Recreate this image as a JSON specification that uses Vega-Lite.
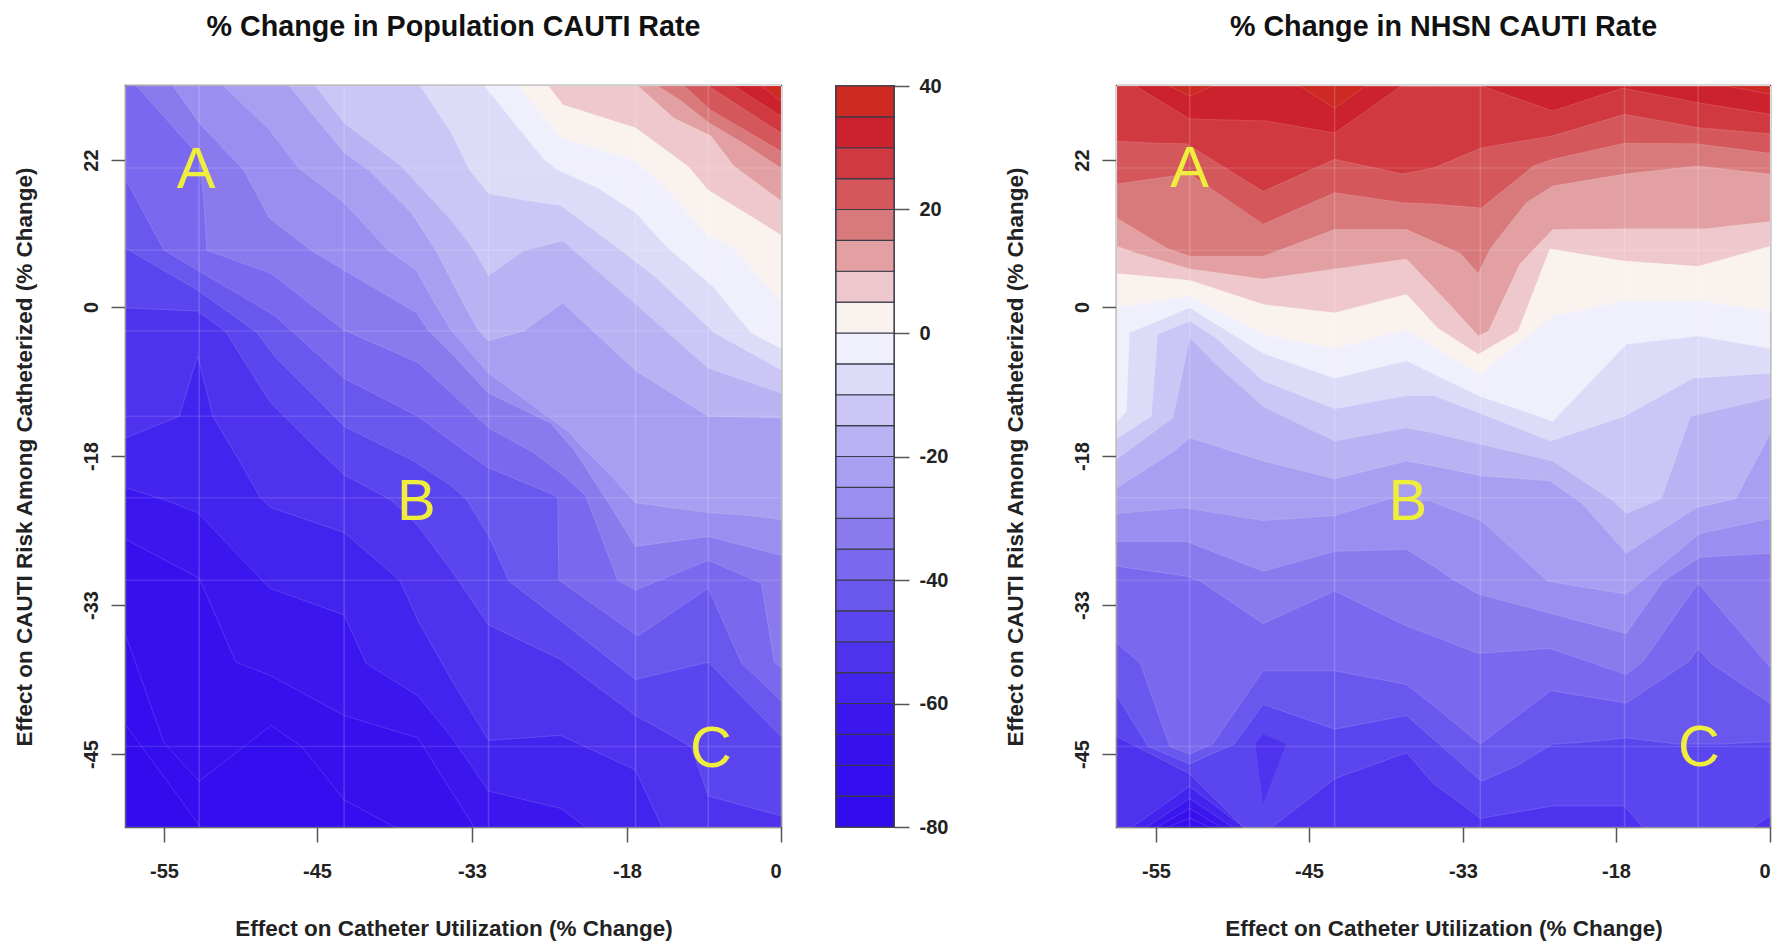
{"$schema":"https://vega.github.io/schema/vega-lite/v6.json","background":"white","padding":{"left":11,"top":12,"right":0,"bottom":0},"spacing":53,"config":{"view":{"stroke":"#555555","strokeWidth":2.5},"axis":{"grid":false,"domain":false,"tickSize":15,"tickWidth":1.5,"tickColor":"#555555","labelFont":"Liberation Sans","labelFontSize":20,"labelFontWeight":"bold","labelColor":"#222222","titleFont":"Liberation Sans","titleFontSize":22.5,"titleFontWeight":"bold","titleColor":"#222222"},"title":{"font":"Liberation Sans","fontSize":28.7,"fontWeight":"bold","color":"#111111","anchor":"middle","offset":42}},"hconcat":[{"spacing":49,"hconcat":[{"width":655,"height":741,"title":"% Change in Population CAUTI Rate","layer":[{"data":{"values":[
{"x":-57.5,"y":-50.9,"band":-80},{"x":0,"y":-50.9,"band":-80},
{"x":-57.5,"y":-42.7,"band":-75},{"x":-52.6,"y":-50.9,"band":-75},{"x":0,"y":-50.9,"band":-75},
{"x":-57.5,"y":-35.5,"band":-70},{"x":-55,"y":-44.1,"band":-70},{"x":-52.7,"y":-47.2,"band":-70},{"x":-48,"y":-42.7,"band":-70},{"x":-46,"y":-44.4,"band":-70},{"x":-42.9,"y":-48.7,"band":-70},{"x":-39,"y":-50.9,"band":-70},{"x":0,"y":-50.9,"band":-70},
{"x":-57.5,"y":-26.4,"band":-65},{"x":-52.7,"y":-30.3,"band":-65},{"x":-50.3,"y":-37.6,"band":-65},{"x":-48,"y":-38.7,"band":-65},{"x":-42.9,"y":-41.9,"band":-65},{"x":-37.2,"y":-43.7,"band":-65},{"x":-32.8,"y":-50.9,"band":-65},{"x":0,"y":-50.9,"band":-65},
{"x":-57.5,"y":-21.2,"band":-60},{"x":-55,"y":-22.4,"band":-60},{"x":-52.8,"y":-23.7,"band":-60},{"x":-48.1,"y":-31.3,"band":-60},{"x":-42.9,"y":-33.8,"band":-60},{"x":-41.2,"y":-37.7,"band":-60},{"x":-37.2,"y":-40.3,"band":-60},{"x":-34.6,"y":-43.6,"band":-60},{"x":-31.4,"y":-48,"band":-60},{"x":-24.4,"y":-49.4,"band":-60},{"x":-22,"y":-50.9,"band":-60},{"x":0,"y":-50.9,"band":-60},
{"x":-57.5,"y":-15.8,"band":-55},{"x":-54,"y":-13.2,"band":-55},{"x":-52.8,"y":-5.9,"band":-55},{"x":-51.8,"y":-13.2,"band":-55},{"x":-50,"y":-18.7,"band":-55},{"x":-48.7,"y":-22.2,"band":-55},{"x":-48,"y":-23.2,"band":-55},{"x":-42.9,"y":-25.7,"band":-55},{"x":-38.6,"y":-30.5,"band":-55},{"x":-37.2,"y":-34.2,"band":-55},{"x":-34.6,"y":-39,"band":-55},{"x":-31.4,"y":-43.9,"band":-55},{"x":-24.4,"y":-43.5,"band":-55},{"x":-17,"y":-46.3,"band":-55},{"x":-13.9,"y":-50.9,"band":-55},{"x":0,"y":-50.9,"band":-55},
{"x":-57.5,"y":-0.1,"band":-50},{"x":-52.8,"y":-0.5,"band":-50},{"x":-51,"y":-2.9,"band":-50},{"x":-48.1,"y":-11.4,"band":-50},{"x":-44.7,"y":-17.6,"band":-50},{"x":-42.9,"y":-19.9,"band":-50},{"x":-39.3,"y":-22.4,"band":-50},{"x":-37.2,"y":-25,"band":-50},{"x":-34.6,"y":-29.5,"band":-50},{"x":-31.4,"y":-34.6,"band":-50},{"x":-24.4,"y":-37.4,"band":-50},{"x":-17,"y":-41.9,"band":-50},{"x":-10.5,"y":-44.4,"band":-50},{"x":-8.5,"y":-48.4,"band":-50},{"x":0,"y":-50,"band":-50},
{"x":-57.5,"y":8.8,"band":-45},{"x":-52.8,"y":2.5,"band":-45},{"x":-48.9,"y":-3.1,"band":-45},{"x":-47.8,"y":-5.9,"band":-45},{"x":-42.9,"y":-14.4,"band":-45},{"x":-37.5,"y":-18.5,"band":-45},{"x":-34.6,"y":-21,"band":-45},{"x":-33.4,"y":-22.4,"band":-45},{"x":-31.4,"y":-26,"band":-45},{"x":-29.4,"y":-30.6,"band":-45},{"x":-24.2,"y":-34.4,"band":-45},{"x":-17,"y":-39,"band":-45},{"x":-8.5,"y":-37.6,"band":-45},{"x":0,"y":-43.6,"band":-45},
{"x":-57.5,"y":19,"band":-40},{"x":-55,"y":8.5,"band":-40},{"x":-52.8,"y":5.5,"band":-40},{"x":-47.8,"y":-1,"band":-40},{"x":-42.9,"y":-8.6,"band":-40},{"x":-37.2,"y":-13.2,"band":-40},{"x":-33.4,"y":-17.6,"band":-40},{"x":-31.4,"y":-19.2,"band":-40},{"x":-25.1,"y":-21.9,"band":-40},{"x":-24.7,"y":-22.2,"band":-40},{"x":-24.6,"y":-30.5,"band":-40},{"x":-16.7,"y":-35.5,"band":-40},{"x":-8.5,"y":-31.3,"band":-40},{"x":-4.6,"y":-37.7,"band":-40},{"x":0,"y":-40.7,"band":-40},
{"x":-56.8,"y":33,"band":-35},{"x":-52.7,"y":22.6,"band":-35},{"x":-52.4,"y":16,"band":-35},{"x":-52.2,"y":8.5,"band":-35},{"x":-48,"y":5,"band":-35},{"x":-42.9,"y":-2.8,"band":-35},{"x":-37.2,"y":-6.7,"band":-35},{"x":-34.6,"y":-10.4,"band":-35},{"x":-31.4,"y":-14.6,"band":-35},{"x":-27,"y":-17.6,"band":-35},{"x":-24.1,"y":-20,"band":-35},{"x":-22,"y":-22,"band":-35},{"x":-18.9,"y":-30.5,"band":-35},{"x":-17,"y":-31.5,"band":-35},{"x":-8.5,"y":-28.5,"band":-35},{"x":-2.3,"y":-30.8,"band":-35},{"x":-0.8,"y":-37.6,"band":-35},{"x":0,"y":-38,"band":-35},
{"x":-54.4,"y":33,"band":-30},{"x":-52.7,"y":27.5,"band":-30},{"x":-49.8,"y":20.5,"band":-30},{"x":-48.1,"y":13.3,"band":-30},{"x":-45.4,"y":8.5,"band":-30},{"x":-42.9,"y":5.5,"band":-30},{"x":-37.3,"y":-0.7,"band":-30},{"x":-36.4,"y":-2.8,"band":-30},{"x":-34.6,"y":-5.6,"band":-30},{"x":-31.4,"y":-10.4,"band":-30},{"x":-25.4,"y":-14,"band":-30},{"x":-23.1,"y":-17.3,"band":-30},{"x":-19.8,"y":-22.7,"band":-30},{"x":-17,"y":-27.1,"band":-30},{"x":-8.5,"y":-26.1,"band":-30},{"x":0,"y":-28,"band":-30},
{"x":-51.1,"y":33,"band":-25},{"x":-48.1,"y":26.5,"band":-25},{"x":-46.2,"y":20.8,"band":-25},{"x":-42.9,"y":15.6,"band":-25},{"x":-39.5,"y":8.5,"band":-25},{"x":-37.3,"y":5.5,"band":-25},{"x":-35.9,"y":0.6,"band":-25},{"x":-34.6,"y":-2.8,"band":-25},{"x":-31.4,"y":-8,"band":-25},{"x":-23.7,"y":-15,"band":-25},{"x":-21.8,"y":-17.6,"band":-25},{"x":-19.8,"y":-19.7,"band":-25},{"x":-17,"y":-22.7,"band":-25},{"x":-8.5,"y":-23.7,"band":-25},{"x":-3.5,"y":-24,"band":-25},{"x":0,"y":-24.4,"band":-25},
{"x":-46.8,"y":33,"band":-20},{"x":-42.9,"y":23.1,"band":-20},{"x":-41,"y":20.5,"band":-20},{"x":-37.7,"y":14.1,"band":-20},{"x":-35.8,"y":8.5,"band":-20},{"x":-34.6,"y":4,"band":-20},{"x":-34.1,"y":2.1,"band":-20},{"x":-32.4,"y":-2.8,"band":-20},{"x":-31.4,"y":-4.1,"band":-20},{"x":-28,"y":-2.9,"band":-20},{"x":-24.2,"y":0.6,"band":-20},{"x":-17,"y":-7.7,"band":-20},{"x":-8.5,"y":-13.2,"band":-20},{"x":0,"y":-13.4,"band":-20},
{"x":-45.1,"y":33,"band":-15},{"x":-42.9,"y":27.5,"band":-15},{"x":-38.5,"y":21.1,"band":-15},{"x":-34.6,"y":13,"band":-15},{"x":-32.8,"y":8.5,"band":-15},{"x":-31.4,"y":4.7,"band":-15},{"x":-28,"y":8.4,"band":-15},{"x":-24.2,"y":9.9,"band":-15},{"x":-16.7,"y":0.1,"band":-15},{"x":-8.5,"y":-7.4,"band":-15},{"x":0,"y":-10.4,"band":-15},
{"x":-37,"y":33,"band":-10},{"x":-34.6,"y":26,"band":-10},{"x":-33.2,"y":20.5,"band":-10},{"x":-31.4,"y":17,"band":-10},{"x":-28,"y":16,"band":-10},{"x":-24.4,"y":15.2,"band":-10},{"x":-18.6,"y":8.5,"band":-10},{"x":-14.8,"y":4.6,"band":-10},{"x":-7.8,"y":-3.1,"band":-10},{"x":0,"y":-7.6,"band":-10},
{"x":-31.8,"y":33,"band":-5},{"x":-26,"y":22,"band":-5},{"x":-24.7,"y":20.5,"band":-5},{"x":-20.8,"y":17.8,"band":-5},{"x":-17,"y":14.1,"band":-5},{"x":-13.2,"y":8.8,"band":-5},{"x":-8,"y":3.1,"band":-5},{"x":-3.5,"y":-3.1,"band":-5},{"x":0,"y":-5,"band":-5},
{"x":-28.5,"y":33,"band":0},{"x":-24.4,"y":25.3,"band":0},{"x":-17,"y":21.9,"band":0},{"x":-13.2,"y":17.5,"band":0},{"x":-8.5,"y":10.6,"band":0},{"x":-5.8,"y":9.1,"band":0},{"x":0,"y":0.9,"band":0},
{"x":-25.6,"y":33,"band":5},{"x":-24.2,"y":30.2,"band":5},{"x":-17,"y":26.8,"band":5},{"x":-10.9,"y":21.1,"band":5},{"x":-8.5,"y":17.5,"band":5},{"x":0,"y":10.8,"band":5},
{"x":-16.7,"y":33,"band":10},{"x":-12.5,"y":28.2,"band":10},{"x":-8.2,"y":25.6,"band":10},{"x":-5.5,"y":21.1,"band":10},{"x":0,"y":15.9,"band":10},
{"x":-14.4,"y":33,"band":15},{"x":-11.7,"y":30.8,"band":15},{"x":-8.4,"y":27.5,"band":15},{"x":-4.4,"y":24.5,"band":15},{"x":0,"y":20.8,"band":15},
{"x":-11.3,"y":33,"band":20},{"x":-8.2,"y":29.4,"band":20},{"x":0,"y":23.3,"band":20},
{"x":-8.5,"y":33,"band":25},{"x":0,"y":26,"band":25},
{"x":-5.5,"y":33,"band":30},{"x":0,"y":28.5,"band":30},
{"x":-2.3,"y":33,"band":35},{"x":0,"y":30.8,"band":35}
]},"mark":{"type":"area","orient":"vertical","stroke":"#ffffff","strokeOpacity":0.14,"strokeWidth":1},"encoding":{"x":{"field":"x","type":"quantitative","scale":{"nice":false,"domain":[-57.5,-55,-45,-33,-18,0],"range":[0,38,191,346,501,655]},"axis":{"values":[-55,-45,-33,-18,0],"labelExpr":"'' + datum.value","title":"Effect on Catheter Utilization (% Change)","labelPadding":19,"titlePadding":36}},"y":{"field":"y","type":"quantitative","stack":null,"scale":{"nice":false,"domain":[-50.9,-45,-33,-18,0,22,33],"range":[741,668,519,370,221,74,0]},"axis":{"values":[-45,-33,-18,0,22],"labelExpr":"'' + datum.value","title":"Effect on CAUTI Risk Among Catheterized (% Change)","labelAngle":-90,"labelAlign":"center","labelBaseline":"bottom","labelPadding":10,"titlePadding":45}},"y2":{"datum":33},"color":{"field":"band","type":"ordinal","legend":null,"scale":{"domain":[-80,-75,-70,-65,-60,-55,-50,-45,-40,-35,-30,-25,-20,-15,-10,-5,0,5,10,15,20,25,30,35],"range":["#330cee","#340eee","#3710ee","#3b16ee","#4324ee","#4f32ee","#5a45ee","#6a58ee","#7a68ee","#8a7aee","#9a8ff0","#a99ff2","#b9b3f3","#cbc6f6","#dddcf8","#f0effc","#faf2ef","#eec8cc","#e3a0a2","#d87a7c","#d4575b","#d0393f","#cc222d","#cc2a22"]}}}},
{"data":{"values":[{"x":-52.7},{"x":-42.9},{"x":-31.4},{"x":-17},{"x":-8.5}]},"mark":{"type":"rule","color":"#ffffff","opacity":0.17,"strokeWidth":1.5},"encoding":{"x":{"field":"x","type":"quantitative"}}},
{"data":{"values":[{"y":20.8},{"y":8.5},{"y":-2.9},{"y":-13.2},{"y":-22.2},{"y":-30.5},{"y":-44.4}]},"mark":{"type":"rule","color":"#ffffff","opacity":0.12,"strokeWidth":1.5},"encoding":{"y":{"field":"y","type":"quantitative"}}},
{"data":{"values":[{"x":-52.9,"y":20.4,"letter":"A"},{"x":-37.3,"y":-22.7,"letter":"B"},{"x":-8.2,"y":-44.7,"letter":"C"}]},"mark":{"type":"text","font":"Liberation Sans","fontSize":58,"color":"#f0ee3c","align":"center","baseline":"middle"},"encoding":{"x":{"field":"x","type":"quantitative"},"y":{"field":"y","type":"quantitative"},"text":{"field":"letter","type":"nominal"}}}]},
{"width":58,"height":741,"view":{"stroke":"#555555","strokeWidth":2},"data":{"values":[{"low":-80,"high":-75,"band":-80},{"low":-75,"high":-70,"band":-75},{"low":-70,"high":-65,"band":-70},{"low":-65,"high":-60,"band":-65},{"low":-60,"high":-55,"band":-60},{"low":-55,"high":-50,"band":-55},{"low":-50,"high":-45,"band":-50},{"low":-45,"high":-40,"band":-45},{"low":-40,"high":-35,"band":-40},{"low":-35,"high":-30,"band":-35},{"low":-30,"high":-25,"band":-30},{"low":-25,"high":-20,"band":-25},{"low":-20,"high":-15,"band":-20},{"low":-15,"high":-10,"band":-15},{"low":-10,"high":-5,"band":-10},{"low":-5,"high":0,"band":-5},{"low":0,"high":5,"band":0},{"low":5,"high":10,"band":5},{"low":10,"high":15,"band":10},{"low":15,"high":20,"band":15},{"low":20,"high":25,"band":20},{"low":25,"high":30,"band":25},{"low":30,"high":35,"band":30},{"low":35,"high":40,"band":35}]},"mark":{"type":"rect","stroke":"#3a3a4a","strokeWidth":1.2},"encoding":{"y":{"field":"low","type":"quantitative","scale":{"domain":[-80,40],"nice":false},"axis":{"orient":"right","values":[-80,-60,-40,-20,0,20,40],"labelExpr":"'' + datum.value","title":null,"labelPadding":10}},"y2":{"field":"high"},"color":{"field":"band","type":"ordinal","legend":null,"scale":{"domain":[-80,-75,-70,-65,-60,-55,-50,-45,-40,-35,-30,-25,-20,-15,-10,-5,0,5,10,15,20,25,30,35],"range":["#330cee","#340eee","#3710ee","#3b16ee","#4324ee","#4f32ee","#5a45ee","#6a58ee","#7a68ee","#8a7aee","#9a8ff0","#a99ff2","#b9b3f3","#cbc6f6","#dddcf8","#f0effc","#faf2ef","#eec8cc","#e3a0a2","#d87a7c","#d4575b","#d0393f","#cc222d","#cc2a22"]}}}}]},
{"width":653,"height":741,"title":"% Change in NHSN CAUTI Rate","layer":[{"data":{"values":[
{"x":-57.5,"y":-50.9,"band":-75},{"x":0,"y":-50.9,"band":-75},
{"x":-57.5,"y":-50.9,"band":-70},{"x":-54.2,"y":-50.9,"band":-70},{"x":-52.8,"y":-50.2,"band":-70},{"x":-51.5,"y":-50.9,"band":-70},{"x":0,"y":-50.9,"band":-70},
{"x":-57.5,"y":-50.9,"band":-65},{"x":-54.9,"y":-50.9,"band":-65},{"x":-52.8,"y":-49.4,"band":-65},{"x":-50.8,"y":-50.9,"band":-65},{"x":0,"y":-50.9,"band":-65},
{"x":-57.5,"y":-50.9,"band":-60},{"x":-55.6,"y":-50.9,"band":-60},{"x":-52.8,"y":-48.6,"band":-60},{"x":-50,"y":-50.9,"band":-60},{"x":0,"y":-50.9,"band":-60},
{"x":-57.5,"y":-50.9,"band":-55},{"x":-56.5,"y":-50.9,"band":-55},{"x":-52.8,"y":-47.6,"band":-55},{"x":-49.3,"y":-50.9,"band":-55},{"x":0,"y":-50.9,"band":-55},
{"x":-57.5,"y":-43.6,"band":-50},{"x":-52.8,"y":-46.6,"band":-50},{"x":-49.3,"y":-50.9,"band":-50},{"x":-47.4,"y":-50.9,"band":-50},{"x":-43,"y":-47,"band":-50},{"x":-37.4,"y":-44.9,"band":-50},{"x":-35.3,"y":-47.4,"band":-50},{"x":-33.8,"y":-48.5,"band":-50},{"x":-31.3,"y":-50.2,"band":-50},{"x":-24.2,"y":-49.2,"band":-50},{"x":-17,"y":-49.2,"band":-50},{"x":-14.9,"y":-50.9,"band":-50},{"x":-2,"y":-50.9,"band":-50},{"x":0,"y":-50,"band":-50},
{"x":-57.5,"y":-40.3,"band":-45},{"x":-55.5,"y":-44.4,"band":-45},{"x":-52.8,"y":-45.8,"band":-45},{"x":-49.9,"y":-44.2,"band":-45},{"x":-48,"y":-41,"band":-45},{"x":-43,"y":-43,"band":-45},{"x":-37.4,"y":-41.9,"band":-45},{"x":-35.3,"y":-43.8,"band":-45},{"x":-31.2,"y":-47.2,"band":-45},{"x":-27.8,"y":-46,"band":-45},{"x":-24.2,"y":-44.2,"band":-45},{"x":-22,"y":-44.1,"band":-45},{"x":-16.8,"y":-43.7,"band":-45},{"x":-10.9,"y":-44.2,"band":-45},{"x":-5.8,"y":-44.2,"band":-45},{"x":0,"y":-44,"band":-45},
{"x":-57.5,"y":-36.1,"band":-40},{"x":-56,"y":-37.7,"band":-40},{"x":-54.1,"y":-44.4,"band":-40},{"x":-52.8,"y":-45,"band":-40},{"x":-51.3,"y":-44.2,"band":-40},{"x":-48,"y":-38.3,"band":-40},{"x":-43,"y":-38.3,"band":-40},{"x":-37.4,"y":-39.4,"band":-40},{"x":-35.3,"y":-41.1,"band":-40},{"x":-31.3,"y":-44.2,"band":-40},{"x":-24.4,"y":-39.9,"band":-40},{"x":-16.8,"y":-40.9,"band":-40},{"x":-9.4,"y":-37.5,"band":-40},{"x":-8.4,"y":-36.5,"band":-40},{"x":-6.9,"y":-37.7,"band":-40},{"x":0,"y":-40.9,"band":-40},
{"x":-57.5,"y":-29.1,"band":-35},{"x":-53,"y":-30.1,"band":-35},{"x":-52.1,"y":-30.6,"band":-35},{"x":-48,"y":-34.5,"band":-35},{"x":-43,"y":-31.6,"band":-35},{"x":-37.4,"y":-34.7,"band":-35},{"x":-35.3,"y":-35.5,"band":-35},{"x":-31.5,"y":-36.9,"band":-35},{"x":-24.5,"y":-36.5,"band":-35},{"x":-16.8,"y":-38.6,"band":-35},{"x":-14.8,"y":-37.5,"band":-35},{"x":-8.4,"y":-30.8,"band":-35},{"x":0,"y":-38,"band":-35},
{"x":-57.5,"y":-26.6,"band":-30},{"x":-53,"y":-26.6,"band":-30},{"x":-48,"y":-29.6,"band":-30},{"x":-43,"y":-27.6,"band":-30},{"x":-37.4,"y":-27.4,"band":-30},{"x":-35.3,"y":-29.1,"band":-30},{"x":-33.8,"y":-30.4,"band":-30},{"x":-31.5,"y":-31.9,"band":-30},{"x":-16.8,"y":-35.3,"band":-30},{"x":-12.5,"y":-30.6,"band":-30},{"x":-8.2,"y":-28.2,"band":-30},{"x":0,"y":-27.8,"band":-30},
{"x":-57.5,"y":-23.8,"band":-25},{"x":-53.2,"y":-23.2,"band":-25},{"x":-48,"y":-24.5,"band":-25},{"x":-43,"y":-24,"band":-25},{"x":-38.7,"y":-22.3,"band":-25},{"x":-35.6,"y":-22.5,"band":-25},{"x":-31.2,"y":-24.5,"band":-25},{"x":-24.7,"y":-30.6,"band":-25},{"x":-16.8,"y":-31.9,"band":-25},{"x":-8.2,"y":-25.8,"band":-25},{"x":0,"y":-24.3,"band":-25},
{"x":-57.5,"y":-21.2,"band":-20},{"x":-53.8,"y":-17.4,"band":-20},{"x":-52.8,"y":-15.8,"band":-20},{"x":-48,"y":-18.5,"band":-20},{"x":-43,"y":-20.3,"band":-20},{"x":-37.4,"y":-18.5,"band":-20},{"x":-35.3,"y":-19,"band":-20},{"x":-31.2,"y":-20,"band":-20},{"x":-24.5,"y":-20.5,"band":-20},{"x":-21.3,"y":-22.8,"band":-20},{"x":-16.8,"y":-27.8,"band":-20},{"x":-8.6,"y":-23.2,"band":-20},{"x":-4,"y":-22.3,"band":-20},{"x":0,"y":-15.3,"band":-20},
{"x":-57.5,"y":-18.3,"band":-15},{"x":-53.9,"y":-13.4,"band":-15},{"x":-52.8,"y":-3.7,"band":-15},{"x":-51.1,"y":-6.9,"band":-15},{"x":-48,"y":-12,"band":-15},{"x":-43,"y":-16.2,"band":-15},{"x":-37.4,"y":-14.6,"band":-15},{"x":-35.3,"y":-15.2,"band":-15},{"x":-31.2,"y":-16.6,"band":-15},{"x":-24.2,"y":-18.5,"band":-15},{"x":-18.3,"y":-22.5,"band":-15},{"x":-16.8,"y":-23.8,"band":-15},{"x":-12.7,"y":-22.3,"band":-15},{"x":-9.3,"y":-13.2,"band":-15},{"x":0,"y":-11,"band":-15},
{"x":-57.5,"y":-15.9,"band":-10},{"x":-55.3,"y":-13.2,"band":-10},{"x":-54.9,"y":-3.3,"band":-10},{"x":-52.8,"y":-1.7,"band":-10},{"x":-51.1,"y":-3.7,"band":-10},{"x":-48,"y":-8.9,"band":-10},{"x":-43,"y":-12.3,"band":-10},{"x":-37.4,"y":-10.7,"band":-10},{"x":-35.3,"y":-10.7,"band":-10},{"x":-31.2,"y":-12.9,"band":-10},{"x":-24.4,"y":-16.2,"band":-10},{"x":-17,"y":-13.2,"band":-10},{"x":-9,"y":-8.6,"band":-10},{"x":0,"y":-8,"band":-10},
{"x":-57.5,"y":-13.8,"band":-5},{"x":-56.9,"y":-12.6,"band":-5},{"x":-56.7,"y":-3.1,"band":-5},{"x":-52.8,"y":-0.1,"band":-5},{"x":-48,"y":-5.6,"band":-5},{"x":-43,"y":-8.6,"band":-5},{"x":-37.4,"y":-6.5,"band":-5},{"x":-35.3,"y":-8.1,"band":-5},{"x":-31.3,"y":-10.8,"band":-5},{"x":-24.2,"y":-13.8,"band":-5},{"x":-16.8,"y":-4.5,"band":-5},{"x":-8.4,"y":-3.5,"band":-5},{"x":0,"y":-5,"band":-5},
{"x":-57.5,"y":-0.1,"band":0},{"x":-52.8,"y":1.6,"band":0},{"x":-48,"y":-3.3,"band":0},{"x":-43,"y":-5,"band":0},{"x":-37.4,"y":-2.7,"band":0},{"x":-33.8,"y":-6.2,"band":0},{"x":-31.3,"y":-8.1,"band":0},{"x":-24.2,"y":-1.1,"band":0},{"x":-17,"y":0.9,"band":0},{"x":-8.4,"y":0.9,"band":0},{"x":0,"y":-0.5,"band":0},
{"x":-57.5,"y":5,"band":5},{"x":-52.8,"y":4,"band":5},{"x":-48,"y":0.4,"band":5},{"x":-43,"y":-0.7,"band":5},{"x":-37.4,"y":1.9,"band":5},{"x":-35,"y":-2.5,"band":5},{"x":-31.5,"y":-5.7,"band":5},{"x":-27.6,"y":-2.9,"band":5},{"x":-24.5,"y":8.7,"band":5},{"x":-17,"y":6.9,"band":5},{"x":-8.4,"y":6.1,"band":5},{"x":0,"y":9.1,"band":5},
{"x":-57.5,"y":9.1,"band":10},{"x":-56.3,"y":8.1,"band":10},{"x":-52.8,"y":5.7,"band":10},{"x":-48,"y":4.2,"band":10},{"x":-43,"y":5.7,"band":10},{"x":-37.4,"y":7.2,"band":10},{"x":-33.8,"y":-0.1,"band":10},{"x":-31.5,"y":-3.5,"band":10},{"x":-30.5,"y":-2.9,"band":10},{"x":-27.4,"y":6.5,"band":10},{"x":-24.2,"y":11.6,"band":10},{"x":-16.8,"y":11.7,"band":10},{"x":-7.5,"y":11.7,"band":10},{"x":0,"y":12.8,"band":10},
{"x":-57.5,"y":13.3,"band":15},{"x":-54.3,"y":8.8,"band":15},{"x":-52.8,"y":7.6,"band":15},{"x":-48,"y":7.6,"band":15},{"x":-43,"y":11.6,"band":15},{"x":-37.4,"y":11.6,"band":15},{"x":-35.3,"y":9.8,"band":15},{"x":-33.2,"y":8,"band":15},{"x":-31.5,"y":5,"band":15},{"x":-30.3,"y":8.8,"band":15},{"x":-26.8,"y":15.6,"band":15},{"x":-24.2,"y":18.1,"band":15},{"x":-17,"y":19.9,"band":15},{"x":-8.6,"y":21.1,"band":15},{"x":0,"y":19.9,"band":15},
{"x":-57.5,"y":18.4,"band":20},{"x":-53.9,"y":19.6,"band":20},{"x":-52.8,"y":19.9,"band":20},{"x":-48,"y":12.4,"band":20},{"x":-43,"y":17.1,"band":20},{"x":-37.7,"y":15.6,"band":20},{"x":-35.3,"y":15.4,"band":20},{"x":-31.2,"y":14.8,"band":20},{"x":-26.1,"y":21.1,"band":20},{"x":-24.2,"y":22.1,"band":20},{"x":-17,"y":24.5,"band":20},{"x":-8.6,"y":24.4,"band":20},{"x":0,"y":23,"band":20},
{"x":-57.5,"y":24.8,"band":25},{"x":-55,"y":24.5,"band":25},{"x":-53,"y":24.4,"band":25},{"x":-48,"y":17.3,"band":25},{"x":-43,"y":22.1,"band":25},{"x":-37.7,"y":19.9,"band":25},{"x":-35.3,"y":20.8,"band":25},{"x":-31.2,"y":23.8,"band":25},{"x":-24.2,"y":25.6,"band":25},{"x":-17,"y":28.8,"band":25},{"x":-8.4,"y":26.8,"band":25},{"x":0,"y":25.9,"band":25},
{"x":-56.3,"y":33,"band":30},{"x":-52.8,"y":28.1,"band":30},{"x":-47.8,"y":27.8,"band":30},{"x":-43,"y":26,"band":30},{"x":-37.8,"y":33,"band":30},{"x":-31.2,"y":33,"band":30},{"x":-24.2,"y":29.3,"band":30},{"x":-17.2,"y":32.7,"band":30},{"x":-8.4,"y":30.5,"band":30},{"x":0,"y":28.8,"band":30},
{"x":-54.1,"y":33,"band":35},{"x":-52.8,"y":31.5,"band":35},{"x":-51.3,"y":33,"band":35},{"x":-45.6,"y":33,"band":35},{"x":-43,"y":29.7,"band":35},{"x":-40.6,"y":33,"band":35},{"x":-5.1,"y":33,"band":35},{"x":0,"y":31.8,"band":35}
]},"mark":{"type":"area","orient":"vertical","stroke":"#ffffff","strokeOpacity":0.14,"strokeWidth":1},"encoding":{"x":{"field":"x","type":"quantitative","scale":{"nice":false,"domain":[-57.5,-55,-45,-33,-18,0],"range":[0,39,192,346,499,653]},"axis":{"values":[-55,-45,-33,-18,0],"labelExpr":"'' + datum.value","title":"Effect on Catheter Utilization (% Change)","labelPadding":19,"titlePadding":36}},"y":{"field":"y","type":"quantitative","stack":null,"scale":{"nice":false,"domain":[-50.9,-45,-33,-18,0,22,33],"range":[741,668,519,370,221,74,0]},"axis":{"values":[-45,-33,-18,0,22],"labelExpr":"'' + datum.value","title":"Effect on CAUTI Risk Among Catheterized (% Change)","labelAngle":-90,"labelAlign":"center","labelBaseline":"bottom","labelPadding":10,"titlePadding":45}},"y2":{"datum":33},"color":{"field":"band","type":"ordinal","legend":null,"scale":{"domain":[-80,-75,-70,-65,-60,-55,-50,-45,-40,-35,-30,-25,-20,-15,-10,-5,0,5,10,15,20,25,30,35],"range":["#330cee","#340eee","#3710ee","#3b16ee","#4324ee","#4f32ee","#5a45ee","#6a58ee","#7a68ee","#8a7aee","#9a8ff0","#a99ff2","#b9b3f3","#cbc6f6","#dddcf8","#f0effc","#faf2ef","#eec8cc","#e3a0a2","#d87a7c","#d4575b","#d0393f","#cc222d","#cc2a22"]}}}},
{"data":{"values":[{"x":-48.5,"y":-44.2,"y0":-44.2,"band":-55},{"x":-48,"y":-43.4,"y0":-49,"band":-55},{"x":-46.5,"y":-44.2,"y0":-44.2,"band":-55}]},"mark":{"type":"area","orient":"vertical"},"encoding":{"x":{"field":"x","type":"quantitative"},"y":{"field":"y","type":"quantitative","stack":null},"y2":{"field":"y0"},"color":{"field":"band","type":"ordinal"}}},
{"data":{"values":[{"x":-52.8},{"x":-43},{"x":-31.3},{"x":-17},{"x":-8.4}]},"mark":{"type":"rule","color":"#ffffff","opacity":0.17,"strokeWidth":1.5},"encoding":{"x":{"field":"x","type":"quantitative"}}},
{"data":{"values":[{"y":20.8},{"y":8.5},{"y":-22.2},{"y":-30.5},{"y":-44.4}]},"mark":{"type":"rule","color":"#ffffff","opacity":0.12,"strokeWidth":1.5},"encoding":{"y":{"field":"y","type":"quantitative"}}},
{"data":{"values":[{"x":-52.8,"y":20.5,"letter":"A"},{"x":-37.3,"y":-22.7,"letter":"B"},{"x":-8.3,"y":-44.6,"letter":"C"}]},"mark":{"type":"text","font":"Liberation Sans","fontSize":58,"color":"#f0ee3c","align":"center","baseline":"middle"},"encoding":{"x":{"field":"x","type":"quantitative"},"y":{"field":"y","type":"quantitative"},"text":{"field":"letter","type":"nominal"}}}]}]}
